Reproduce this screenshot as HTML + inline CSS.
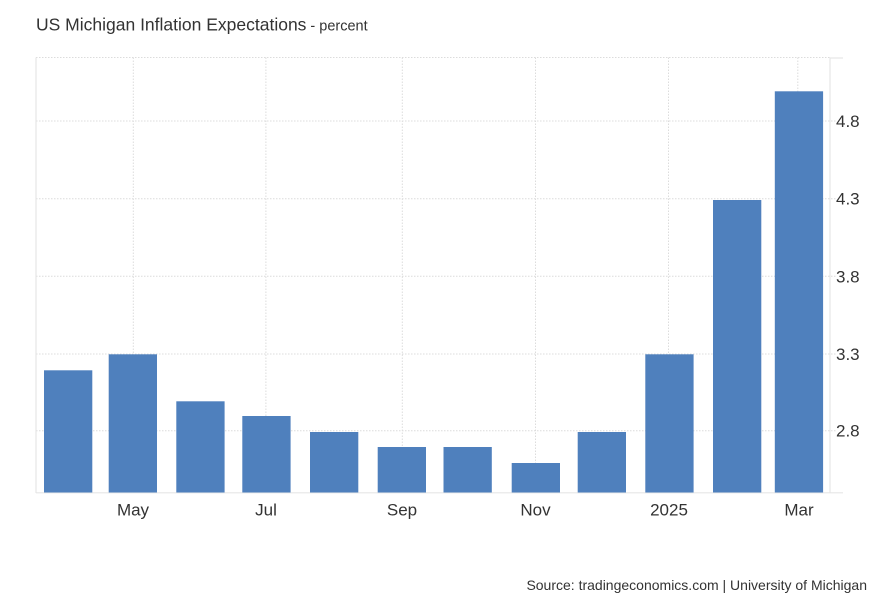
<!DOCTYPE html>
<html>
<head>
<meta charset="utf-8">
<style>
  html, body { margin: 0; padding: 0; background: #ffffff; }
  svg { display: block; font-family: "Liberation Sans", Arial, Helvetica, sans-serif; }
</style>
</head>
<body>
<svg width="882" height="603" viewBox="0 0 882 603" xmlns="http://www.w3.org/2000/svg">
  <rect x="0" y="0" width="882" height="603" fill="#ffffff"/>

  <!-- Title -->
  <text x="36" y="30.5" font-size="17.5" fill="#333333">US Michigan Inflation Expectations<tspan font-size="14.5" dx="4">- percent</tspan></text>

  <!-- Horizontal dotted gridlines -->
  <g stroke="#dcdcdc" stroke-width="1" stroke-dasharray="1.5,1.5" fill="none">
    <line x1="36" y1="57.5" x2="830" y2="57.5"/>
    <line x1="36" y1="121" x2="836" y2="121"/>
    <line x1="36" y1="198.7" x2="836" y2="198.7"/>
    <line x1="36" y1="276.3" x2="836" y2="276.3"/>
    <line x1="36" y1="354" x2="836" y2="354"/>
    <line x1="36" y1="430.7" x2="836" y2="430.7"/>
  </g>
  <!-- Vertical dotted gridlines -->
  <g stroke="#dcdcdc" stroke-width="1" stroke-dasharray="1.5,1.5" fill="none">
    <line x1="133.3" y1="57.5" x2="133.3" y2="492.5"/>
    <line x1="265.9" y1="57.5" x2="265.9" y2="492.5"/>
    <line x1="402.3" y1="57.5" x2="402.3" y2="492.5"/>
    <line x1="535.5" y1="57.5" x2="535.5" y2="492.5"/>
    <line x1="668.5" y1="57.5" x2="668.5" y2="492.5"/>
    <line x1="797.8" y1="57.5" x2="797.8" y2="492.5"/>
  </g>

  <!-- Axis lines -->
  <g stroke="#e6e6e6" stroke-width="1.2" fill="none">
    <line x1="36" y1="57.5" x2="36" y2="493"/>
    <line x1="830" y1="57.5" x2="830" y2="493"/>
    <line x1="830" y1="58" x2="843" y2="58"/>
    <line x1="36" y1="492.8" x2="843" y2="492.8"/>
  </g>

  <!-- Bars -->
  <g fill="#4f80bd">
    <rect x="44" y="370.3" width="48.3" height="122.2"/>
    <rect x="108.7" y="354.3" width="48.3" height="138.2"/>
    <rect x="176.3" y="401.3" width="48.3" height="91.2"/>
    <rect x="242.3" y="416" width="48.3" height="76.5"/>
    <rect x="310" y="432" width="48.3" height="60.5"/>
    <rect x="377.7" y="447" width="48.3" height="45.5"/>
    <rect x="443.5" y="447" width="48.3" height="45.5"/>
    <rect x="511.7" y="463" width="48.3" height="29.5"/>
    <rect x="577.7" y="432" width="48.3" height="60.5"/>
    <rect x="645.3" y="354.3" width="48.3" height="138.2"/>
    <rect x="713" y="200" width="48.3" height="292.5"/>
    <rect x="774.8" y="91.3" width="48.3" height="401.2"/>
  </g>

  <!-- Y axis labels -->
  <g font-size="17" fill="#333333">
    <text x="836" y="127">4.8</text>
    <text x="836" y="204.7">4.3</text>
    <text x="836" y="282.3">3.8</text>
    <text x="836" y="360">3.3</text>
    <text x="836" y="436.7">2.8</text>
  </g>

  <!-- X axis labels -->
  <g font-size="17" fill="#333333" text-anchor="middle">
    <text x="133" y="515.5">May</text>
    <text x="266" y="515.5">Jul</text>
    <text x="402" y="515.5">Sep</text>
    <text x="535.5" y="515.5">Nov</text>
    <text x="669" y="515.5">2025</text>
    <text x="799" y="515.5">Mar</text>
  </g>

  <!-- Source -->
  <text x="867" y="590" font-size="14" fill="#333333" text-anchor="end">Source: tradingeconomics.com | University of Michigan</text>
</svg>
</body>
</html>
